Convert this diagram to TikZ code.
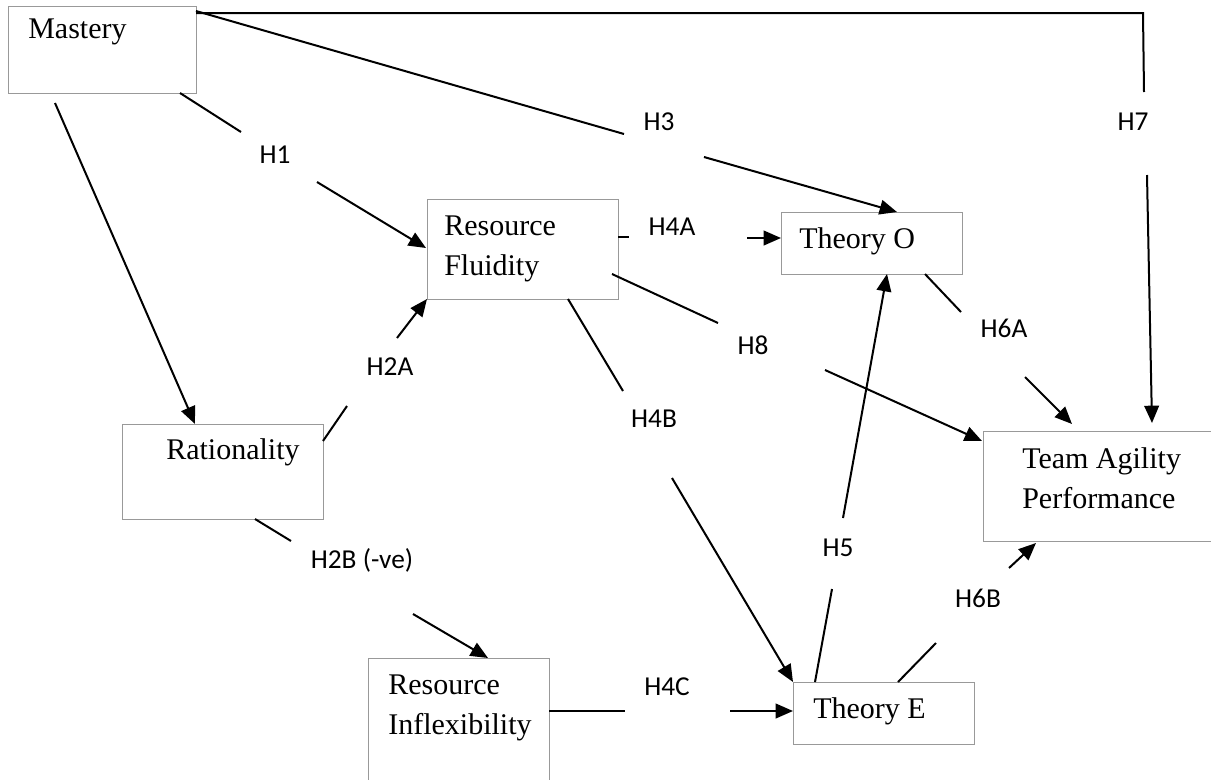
\documentclass[tikz,border=0pt]{standalone}
\usepackage{fontspec}
\setmainfont{Liberation Serif}
\newfontfamily\labfont{Carlito}
\usetikzlibrary{arrows.meta,fit}
\begin{document}
\begin{tikzpicture}[x=0.75pt,y=-0.75pt,
  box/.style={draw=black!40,line width=0.75pt,inner sep=0pt,fill=none},
  btext/.style={anchor=base west,inner sep=0pt,font=\fontsize{22.5pt}{30pt}\selectfont,align=left},
  hlab/.style={inner sep=0pt,font=\labfont\fontsize{20.5pt}{24pt}\selectfont},
  conn/.style={line width=1.5pt,line cap=butt},
  arr/.style={conn,-{Triangle[length=13pt,width=11pt]}}]
\clip (0,0) rectangle (1211,779);
\fill[white] (0,0) rectangle (1211,779);
% boxes
\node[box,fit={(8,6) (196,93)}] (mastery) {};
\node[btext] (tmastery) at (28,38) {Mastery};
\node[box,fit={(427,199) (618,299)}] (rf) {};
\node[btext] (trf) at (444,275) {Resource\\Fluidity};
\node[box,fit={(781,212) (962,274)}] (to) {};
\node[btext] (tto) at (799,248) {Theory O};
\node[box,fit={(122,424) (323,519)}] (rat) {};
\node[btext] (trat) at (166,459) {Rationality};
\node[box,fit={(983,431) (1220,541)}] (tap) {};
\node[btext] (ttap) at (1022,508) {Team Agility\\Performance};
\node[box,fit={(793,682) (974,744)}] (te) {};
\node[btext] (tte) at (813,718) {Theory E};
\node[box,fit={(368,658) (549,790)}] (ri) {};
\node[btext] (tri) at (388,734) {Resource\\Inflexibility};
% labels
\node[hlab] (h1) at (275,155) {H1};
\node[hlab] (h3) at (659,122) {H3};
\node[hlab] (h7) at (1133,122) {H7};
\node[hlab] (h4a) at (672,227) {H4A};
\node[hlab] (h8) at (753,345) {H8};
\node[hlab] (h6a) at (1004,328) {H6A};
\node[hlab] (h2a) at (390,367) {H2A};
\node[hlab] (h4b) at (654,419) {H4B};
\node[hlab] (h2b) at (362,560) {H2B (-ve)};
\node[hlab] (h5) at (838,548) {H5};
\node[hlab] (h6b) at (978,598) {H6B};
\node[hlab] (h4c) at (667,687) {H4C};
% connector end points
\coordinate (m1) at (55,103);   \coordinate (r1) at (195,424);
\coordinate (a1) at (180,93);   \coordinate (a2) at (241,132);
\coordinate (a3) at (317,182);  \coordinate (a4) at (426,248);
\coordinate (b1) at (196,11);   \coordinate (b2) at (624,134);
\coordinate (b3) at (704,157);  \coordinate (b4) at (897,212);
\coordinate (c1) at (196,13);   \coordinate (c2) at (1143,13);
\coordinate (c3) at (1144,92);  \coordinate (c4) at (1147,175);
\coordinate (c5) at (1152,423);
\coordinate (d1) at (618,237);  \coordinate (d2) at (629,237);
\coordinate (d3) at (747,238);  \coordinate (d4) at (781,238);
\coordinate (e1) at (612,274);  \coordinate (e2) at (718,323);
\coordinate (e3) at (825,370);  \coordinate (e4) at (982,441);
\coordinate (f1) at (925,274);  \coordinate (f2) at (961,312);
\coordinate (f3) at (1025,377); \coordinate (f4) at (1072,424);
\coordinate (g1) at (323,441);  \coordinate (g2) at (347,406);
\coordinate (g3) at (397,338);  \coordinate (g4) at (427,299);
\coordinate (k1) at (568,299);  \coordinate (k2) at (623,391);
\coordinate (k3) at (672,478);  \coordinate (k4) at (793,682);
\coordinate (n1) at (255,519);  \coordinate (n2) at (291,541);
\coordinate (n3) at (413,614);  \coordinate (n4) at (488,658);
\coordinate (p1) at (815,682);  \coordinate (p2) at (832,589);
\coordinate (p3) at (843,518);  \coordinate (p4) at (887,274);
\coordinate (q1) at (898,682);  \coordinate (q2) at (936,643);
\coordinate (q3) at (1009,568); \coordinate (q4) at (1036,543);
\coordinate (s1) at (549,711);  \coordinate (s2) at (625,711);
\coordinate (s3) at (730,711);  \coordinate (s4) at (793,711);
% connectors
\draw[arr] (m1) -- (r1);
\draw[conn] (a1) -- (a2); \draw[arr] (a3) -- (a4);
\draw[conn] (b1) -- (b2); \draw[arr] (b3) -- (b4);
\draw[conn] (c1) -- (c2) -- (c3); \draw[arr] (c4) -- (c5);
\draw[conn] (d1) -- (d2); \draw[arr] (d3) -- (d4);
\draw[conn] (e1) -- (e2); \draw[arr] (e3) -- (e4);
\draw[conn] (f1) -- (f2); \draw[arr] (f3) -- (f4);
\draw[conn] (g1) -- (g2); \draw[arr] (g3) -- (g4);
\draw[conn] (k1) -- (k2); \draw[arr] (k3) -- (k4);
\draw[conn] (n1) -- (n2); \draw[arr] (n3) -- (n4);
\draw[conn] (p1) -- (p2); \draw[arr] (p3) -- (p4);
\draw[conn] (q1) -- (q2); \draw[arr] (q3) -- (q4);
\draw[conn] (s1) -- (s2); \draw[arr] (s3) -- (s4);
\end{tikzpicture}
\end{document}
